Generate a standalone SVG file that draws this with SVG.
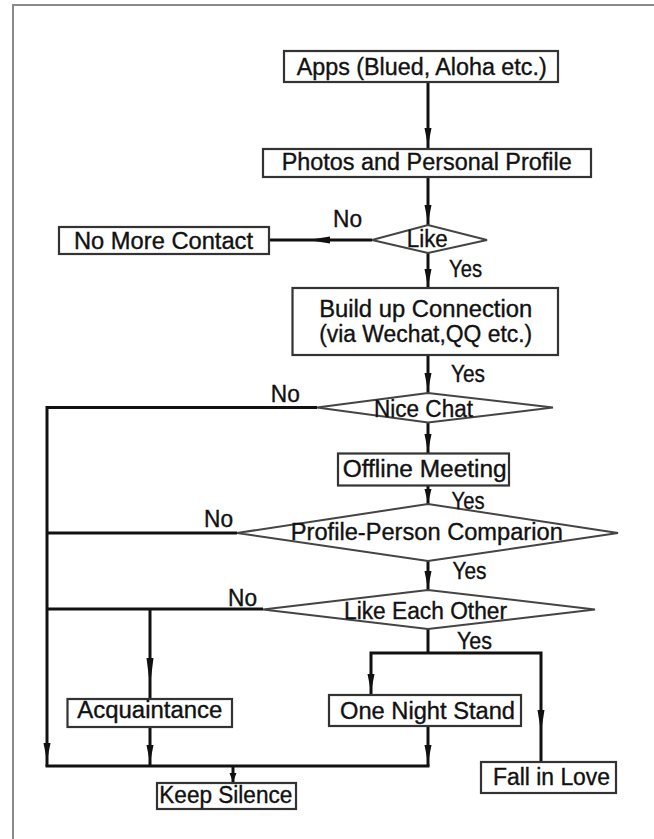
<svg xmlns="http://www.w3.org/2000/svg" width="654" height="839" viewBox="0 0 654 839">
<style>
.bx{fill:#fff;stroke:#333;stroke-width:2.2}
.dm{fill:#fff;stroke:#444;stroke-width:2}
.ln{fill:none;stroke:#111;stroke-width:3}
.ah{fill:#111;stroke:none}
.t{font-family:"Liberation Sans",Arial,sans-serif;font-size:23px;fill:#111;stroke:#111;stroke-width:0.35;text-anchor:middle}
.frame{fill:none;stroke:#8a8a8a;stroke-width:2}
</style>
<defs>
<polygon id="ad" points="-3.5,-18 3.5,-18 0,0"/>
</defs>
<rect width="654" height="839" fill="#fff"/>
<polyline class="frame" points="13,839 13,5 654,5"/>

<g id="connectors">
<line class="ln" x1="428" y1="82" x2="428" y2="149"/>
<use href="#ad" class="ah" x="428" y="146"/>
<line class="ln" x1="428" y1="177" x2="428" y2="225"/>
<use href="#ad" class="ah" x="428" y="223"/>
<line class="ln" x1="372" y1="240" x2="269" y2="240"/>
<polygon class="ah" points="308,240 330,236.5 330,243.5"/>
<line class="ln" x1="428" y1="253" x2="428" y2="288"/>
<use href="#ad" class="ah" x="428" y="287"/>
<line class="ln" x1="428" y1="355" x2="428" y2="393"/>
<use href="#ad" class="ah" x="428" y="391"/>
<line class="ln" x1="428" y1="422" x2="428" y2="453"/>
<use href="#ad" class="ah" x="428" y="452"/>
<line class="ln" x1="428" y1="486" x2="428" y2="504"/>
<polygon class="ah" points="424.5,489 431.5,489 428,503"/>
<line class="ln" x1="428" y1="561" x2="428" y2="590"/>
<use href="#ad" class="ah" x="428" y="589"/>
<polyline class="ln" points="317,407.5 47,407.5 47,766"/>
<use href="#ad" class="ah" x="47" y="761"/>
<line class="ln" x1="237" y1="533" x2="47" y2="533"/>
<line class="ln" x1="263" y1="609" x2="47" y2="609"/>
<line class="ln" x1="150" y1="609" x2="150" y2="699"/>
<polygon class="ah" points="146.5,658 153.5,658 150,686"/>
<line class="ln" x1="150" y1="727" x2="150" y2="766"/>
<use href="#ad" class="ah" x="150" y="763"/>
<polyline class="ln" points="428,629 428,653"/>
<polyline class="ln" points="371,695 371,653 541,653 541,762"/>
<use href="#ad" class="ah" x="371" y="692"/>
<polygon class="ah" points="537.5,710 544.5,710 541,732"/>
<line class="ln" x1="428" y1="726" x2="428" y2="766"/>
<use href="#ad" class="ah" x="428" y="763"/>
<line class="ln" x1="45.5" y1="766" x2="429.5" y2="766"/>
<line class="ln" x1="233" y1="766" x2="233" y2="783"/>
<polygon class="ah" points="229.5,773 236.5,773 233,782"/>
</g>

<g id="apps"><rect class="bx" x="284" y="51" width="274" height="31"/><text class="t" x="421.7" y="75" textLength="250" lengthAdjust="spacingAndGlyphs">Apps (Blued, Aloha etc.)</text></g>
<g id="photos"><rect class="bx" x="263" y="149" width="328" height="28"/><text class="t" x="426.7" y="170" textLength="290" lengthAdjust="spacingAndGlyphs">Photos and Personal Profile</text></g>
<g id="like"><polygon class="dm" points="372,240 428,225 487,240 428,253"/><text class="t" x="427.3" y="247" textLength="41" lengthAdjust="spacingAndGlyphs">Like</text></g>
<g id="nomore"><rect class="bx" x="59" y="227" width="210" height="27"/><text class="t" x="163.5" y="249" textLength="179" lengthAdjust="spacingAndGlyphs">No More Contact</text></g>
<g id="build"><rect class="bx" x="292.5" y="288" width="265.5" height="67"/><text class="t" x="425.7" y="317" textLength="213" lengthAdjust="spacingAndGlyphs">Build up Connection</text><text class="t" x="425.7" y="342" textLength="213" lengthAdjust="spacingAndGlyphs">(via Wechat,QQ etc.)</text></g>
<g id="nicechat"><polygon class="dm" points="317,407.5 428,393 553,407.5 428,422.5"/><text class="t" x="423.5" y="417" textLength="99" lengthAdjust="spacingAndGlyphs">Nice Chat</text></g>
<g id="offline"><rect class="bx" x="338" y="453.5" width="171" height="32"/><text class="t" x="424.7" y="477" textLength="164" lengthAdjust="spacingAndGlyphs">Offline Meeting</text></g>
<g id="profile"><polygon class="dm" points="237,533 428,504 618,533 428,561"/><text class="t" x="426.8" y="540" textLength="272" lengthAdjust="spacingAndGlyphs">Profile-Person Comparion</text></g>
<g id="likeeach"><polygon class="dm" points="263,609.5 428,590 595,609.5 428,629"/><text class="t" x="425.5" y="619" textLength="163" lengthAdjust="spacingAndGlyphs">Like Each Other</text></g>
<g id="acq"><rect class="bx" x="67.5" y="699" width="164.5" height="28"/><text class="t" x="149.8" y="718" textLength="145" lengthAdjust="spacingAndGlyphs">Acquaintance</text></g>
<g id="ons"><rect class="bx" x="329" y="695" width="192" height="31"/><text class="t" x="427.5" y="719" textLength="175" lengthAdjust="spacingAndGlyphs">One Night Stand</text></g>
<g id="love"><rect class="bx" x="481" y="762" width="135" height="31"/><text class="t" x="551.5" y="785" textLength="117" lengthAdjust="spacingAndGlyphs">Fall in Love</text></g>
<g id="silence"><rect class="bx" x="157" y="783" width="139" height="26"/><text class="t" x="225.8" y="803" textLength="133" lengthAdjust="spacingAndGlyphs">Keep Silence</text></g>

<g id="labels">
<text class="t" x="347.5" y="227" textLength="29" lengthAdjust="spacingAndGlyphs">No</text>
<text class="t" x="465.5" y="277" textLength="33" lengthAdjust="spacingAndGlyphs">Yes</text>
<text class="t" x="468" y="382" textLength="34" lengthAdjust="spacingAndGlyphs">Yes</text>
<text class="t" x="285.3" y="402" textLength="29" lengthAdjust="spacingAndGlyphs">No</text>
<text class="t" x="468" y="509" textLength="33" lengthAdjust="spacingAndGlyphs">Yes</text>
<text class="t" x="218.5" y="527" textLength="29" lengthAdjust="spacingAndGlyphs">No</text>
<text class="t" x="469.5" y="579" textLength="34" lengthAdjust="spacingAndGlyphs">Yes</text>
<text class="t" x="242.5" y="606" textLength="29" lengthAdjust="spacingAndGlyphs">No</text>
<text class="t" x="474.5" y="649" textLength="35" lengthAdjust="spacingAndGlyphs">Yes</text>
</g>
</svg>
